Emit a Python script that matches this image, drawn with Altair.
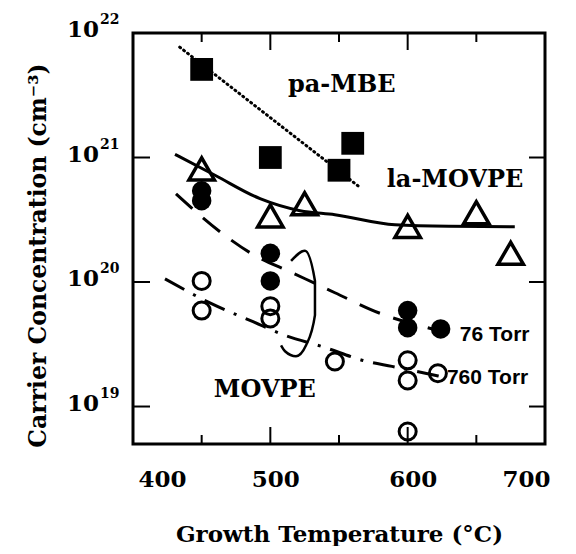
import altair as alt
import pandas as pd

# ---------------- data ----------------
# pa-MBE (filled squares) and its dotted guide line
mbe_t = [450, 500, 550, 560]
mbe_n = [5.1e21, 1.0e21, 7.9e20, 1.3e21]
mbe_fit_t = [434, 564]
mbe_fit_n = [7.7e21, 5.9e20]

# la-MOVPE (open triangles) and its solid guide line
la_t = [450, 500, 525, 600, 650, 675]
la_n = [8.1e20, 3.4e20, 4.25e20, 2.8e20, 3.6e20, 1.7e20]
la_fit_t = [430.6, 459.7, 492.5, 521.6, 547, 590.8, 630, 678]
la_fit_n = [1.06e21, 7.2e20, 4.67e20, 3.74e20, 3.47e20, 2.88e20, 2.8e20, 2.78e20]

# MOVPE 76 Torr (filled circles) and dashed guide line
t76_t = [450, 450, 500, 500, 600, 600, 624]
t76_n = [5.4e20, 4.5e20, 1.7e20, 1.02e20, 5.9e19, 4.3e19, 4.2e19]
t76_fit_t = [431.3, 464, 486, 516.5, 547, 580, 617.7]
t76_fit_n = [5.1e20, 2.5e20, 1.7e20, 1.18e20, 8.2e19, 5.6e19, 4.2e19]

# MOVPE 760 Torr (open circles) and dash-dot guide line
t760_t = [450, 450, 500, 500, 547, 600, 600, 600, 622]
t760_n = [1.02e20, 5.9e19, 6.4e19, 5.1e19, 2.3e19, 2.35e19, 1.62e19, 6.3e18, 1.85e19]
t760_fit_t = [423.3, 456, 487.4, 511.4, 537, 570.4, 588.6, 623.5]
t760_fit_n = [1.06e20, 6.8e19, 4.8e19, 3.7e19, 3.05e19, 2.3e19, 2.1e19, 1.75e19]

# loop drawn round the MOVPE points
loop_t = [515.1, 525.2, 532.5, 532.5, 526, 518.7, 510.7, 507.8]
loop_n = [1.476e20, 1.78e20, 1.02e20, 5.42e19, 3.1e19, 2.53e19, 2.78e19, 3.1e19]

# annotations
big_labels = ["pa-MBE", "la-MOVPE", "MOVPE"]
big_t = [552, 634.5, 496]
big_n = [3.8e21, 6.65e20, 1.35e19]
torr_labels = ["76 Torr", "760 Torr"]
torr_t = [638, 628.6]
torr_n = [3.74e19, 1.68e19]

# axes
x_labels = [400, 500, 600, 700]
x_major_ticks = [500, 600]
x_minor_ticks = [450, 550, 650]
y_major_ticks = [1e19, 1e20, 1e21]
y_label_vals = [1e19, 1e20, 1e21, 1e22]
y_label_exp = ["19", "20", "21", "22"]

# ---------------- chart ----------------
W, H = 412, 411
SERIF = "DejaVu Serif"
NARROW = "Liberation Sans Narrow, Liberation Sans"

xs = alt.Scale(domain=[400, 700], nice=False, zero=False)
ys = alt.Scale(type="log", domain=[5e18, 1e22], nice=False)

x_axis = alt.Axis(
    values=x_labels, ticks=False, tickSize=0, domain=False, grid=False,
    labelFont=SERIF, labelFontWeight="bold", labelFontSize=23, labelColor="black",
    labelPadding=24, labelOffset=5,
    title="Growth Temperature (°C)", titleFont=SERIF, titleFontWeight="bold",
    titleFontSize=23, titleColor="black", titleX=206, titleY=97,
    titleBaseline="alphabetic", titleAlign="center",
)
y_axis = alt.Axis(
    labels=False, ticks=False, tickSize=0, domain=False, grid=False,
    title="Carrier Concentration (cm⁻³)", titleFont=SERIF, titleFontWeight="bold",
    titleFontSize=23.5, titleColor="black", titleX=-95, titleY=222,
    titleAngle=270, titleBaseline="middle", titleAlign="center",
)


def X():
    return alt.X("t:Q", scale=xs, axis=x_axis)


def Y():
    return alt.Y("n:Q", scale=ys, axis=y_axis)


def df(t, n):
    return pd.DataFrame({"t": t, "n": n, "i": list(range(len(t)))})


# guide lines
mbe_line = alt.Chart(df(mbe_fit_t, mbe_fit_n)).mark_line(
    color="black", strokeWidth=3, strokeDash=[1, 4], strokeCap="round"
).encode(x=X(), y=Y(), order="i:Q")

la_line = alt.Chart(df(la_fit_t, la_fit_n)).mark_line(
    color="black", strokeWidth=3, interpolate="monotone"
).encode(x=X(), y=Y(), order="i:Q")

t76_line = alt.Chart(df(t76_fit_t, t76_fit_n)).mark_line(
    color="black", strokeWidth=3, strokeDash=[22, 14], interpolate="monotone"
).encode(x=X(), y=Y(), order="i:Q")

t760_line = alt.Chart(df(t760_fit_t, t760_fit_n)).mark_line(
    color="black", strokeWidth=3, strokeDash=[22, 10, 3, 10], interpolate="monotone"
).encode(x=X(), y=Y(), order="i:Q")

loop_line = alt.Chart(df(loop_t, loop_n)).mark_line(
    color="black", strokeWidth=2.5, interpolate="monotone"
).encode(x=X(), y=Y(), order="i:Q")

# points
mbe_pts = alt.Chart(df(mbe_t, mbe_n)).mark_point(
    shape="square", filled=True, fill="black", color="black", size=520, opacity=1
).encode(x=X(), y=Y())

la_pts = alt.Chart(df(la_t, la_n)).mark_point(
    shape="triangle-up", filled=False, color="black", strokeWidth=3.5, size=650, opacity=1
).encode(x=X(), y=Y())

t76_pts = alt.Chart(df(t76_t, t76_n)).mark_point(
    shape="circle", filled=True, fill="black", color="black", size=380, opacity=1
).encode(x=X(), y=Y())

t760_pts = alt.Chart(df(t760_t, t760_n)).mark_point(
    shape="circle", filled=False, color="black", strokeWidth=3, size=290, opacity=1
).encode(x=X(), y=Y())

# annotations
big_txt = alt.Chart(pd.DataFrame({"t": big_t, "n": big_n, "label": big_labels})).mark_text(
    font=SERIF, fontWeight="bold", fontSize=24, color="black", align="center", baseline="middle"
).encode(x=X(), y=Y(), text="label:N")

torr_txt = alt.Chart(pd.DataFrame({"t": torr_t, "n": torr_n, "label": torr_labels})).mark_text(
    font=NARROW, fontWeight="bold", fontSize=21, color="black", align="left", baseline="middle"
).encode(x=X(), y=Y(), text="label:N")

# inward ticks on all four sides
xmaj = pd.DataFrame({"t": x_major_ticks})
xmin = pd.DataFrame({"t": x_minor_ticks})
ymaj = pd.DataFrame({"n": y_major_ticks})

tick_layers = []
for data, ln in ((xmaj, 17), (xmin, 9)):
    tick_layers.append(alt.Chart(data).mark_rule(color="black", strokeWidth=2).encode(
        x=X(), y=alt.value(H), y2=alt.value(H - ln)))
    tick_layers.append(alt.Chart(data).mark_rule(color="black", strokeWidth=2).encode(
        x=X(), y=alt.value(0), y2=alt.value(ln)))
tick_layers.append(alt.Chart(ymaj).mark_rule(color="black", strokeWidth=2).encode(
    y=Y(), x=alt.value(0), x2=alt.value(17)))
tick_layers.append(alt.Chart(ymaj).mark_rule(color="black", strokeWidth=2).encode(
    y=Y(), x=alt.value(W), x2=alt.value(W - 16)))

# y tick labels with superscript exponents
ylab = pd.DataFrame({"n": y_label_vals, "exp": y_label_exp, "base": ["10"] * len(y_label_vals)})
ybase = alt.Chart(ylab).mark_text(
    font=SERIF, fontWeight="bold", fontSize=23, color="black", align="right", baseline="middle", dy=-3
).encode(y=Y(), x=alt.value(-34), text="base:N")
yexp = alt.Chart(ylab).mark_text(
    font=SERIF, fontWeight="bold", fontSize=14, color="black", align="left", baseline="middle", dy=-13, dx=1
).encode(y=Y(), x=alt.value(-34), text="exp:N")

chart = alt.layer(
    mbe_line, la_line, t76_line, t760_line, loop_line,
    mbe_pts, la_pts, t76_pts, t760_pts,
    big_txt, torr_txt, *tick_layers, ybase, yexp,
).properties(
    width=W, height=H,
    background="white",
    padding={"left": 125, "top": 25, "right": 20, "bottom": 102},
    autosize=alt.AutoSizeParams(type="none"),
).configure_view(
    stroke="black", strokeWidth=3
)

chart.save("out.html", embed_options={"renderer": "svg", "actions": False})
